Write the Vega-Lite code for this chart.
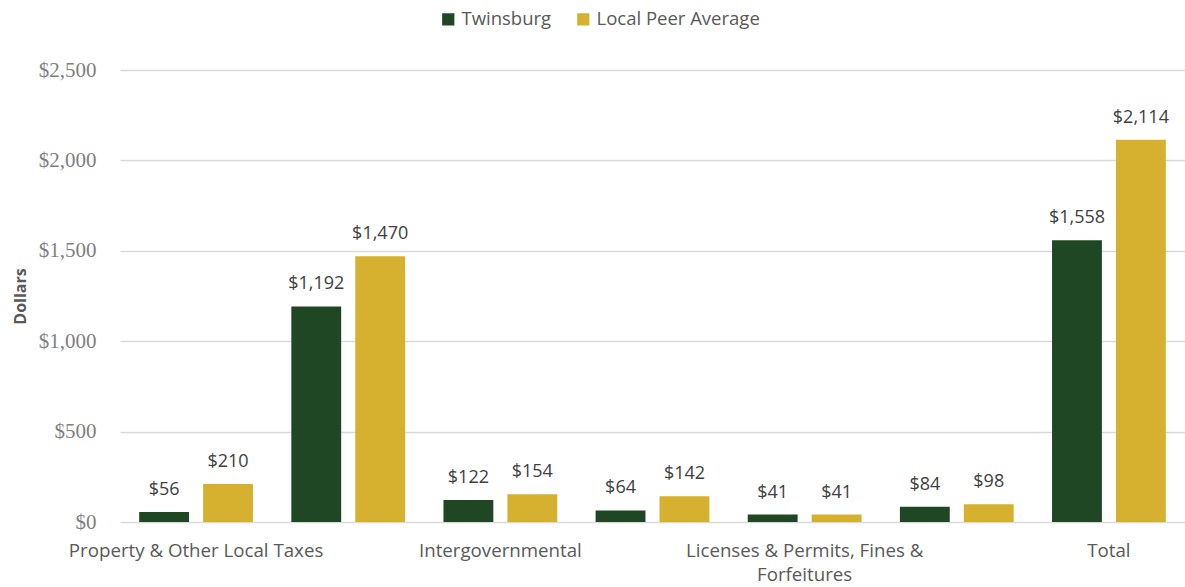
{
  "$schema": "https://vega.github.io/schema/vega-lite/v6.json",
  "autosize": {"type": "none"},
  "width": 1065,
  "height": 452,
  "padding": {"left": 120, "top": 70, "right": 0, "bottom": 65},
  "background": "white",
  "config": {"view": {"stroke": null}},
  "data": {
    "values": [
      {"category": "Property & Other Local Taxes", "series": "Twinsburg", "value": 56},
      {"category": "Property & Other Local Taxes", "series": "Local Peer Average", "value": 210},
      {"category": "Municipal Income Tax", "series": "Twinsburg", "value": 1192},
      {"category": "Municipal Income Tax", "series": "Local Peer Average", "value": 1470},
      {"category": "Intergovernmental", "series": "Twinsburg", "value": 122},
      {"category": "Intergovernmental", "series": "Local Peer Average", "value": 154},
      {"category": "Charges for Services", "series": "Twinsburg", "value": 64},
      {"category": "Charges for Services", "series": "Local Peer Average", "value": 142},
      {"category": "Licenses & Permits, Fines & Forfeitures", "series": "Twinsburg", "value": 41},
      {"category": "Licenses & Permits, Fines & Forfeitures", "series": "Local Peer Average", "value": 41},
      {"category": "Miscellaneous", "series": "Twinsburg", "value": 84},
      {"category": "Miscellaneous", "series": "Local Peer Average", "value": 98},
      {"category": "Total", "series": "Twinsburg", "value": 1558},
      {"category": "Total", "series": "Local Peer Average", "value": 2114}
    ]
  },
  "encoding": {
    "x": {
      "field": "category",
      "type": "nominal",
      "sort": null,
      "scale": {"paddingInner": 0, "paddingOuter": 0},
      "axis": {
        "title": null,
        "labelAngle": 0,
        "ticks": false,
        "domain": false,
        "labelFont": "Open Sans",
        "labelFontSize": 18.7,
        "labelColor": "#595959",
        "labelPadding": 19,
        "labelLimit": 0,
        "labelOverlap": false,
        "labelLineHeight": 24,
        "labelExpr": "datum.label == 'Licenses & Permits, Fines & Forfeitures' ? ['Licenses & Permits, Fines &', 'Forfeitures'] : (indexof(['Municipal Income Tax', 'Charges for Services', 'Miscellaneous'], datum.label) >= 0 ? '' : datum.label)"
      }
    },
    "xOffset": {
      "field": "series",
      "type": "nominal",
      "sort": ["Twinsburg", "Local Peer Average"],
      "scale": {"paddingInner": 0.22, "paddingOuter": 0.3}
    },
    "y": {
      "field": "value",
      "type": "quantitative",
      "scale": {"domain": [0, 2500]},
      "axis": {
        "title": "Dollars",
        "titleFont": "Open Sans",
        "titleFontSize": 16,
        "titleFontWeight": "bold",
        "titleColor": "#595959",
        "titlePadding": 10,
        "values": [0, 500, 1000, 1500, 2000, 2500],
        "format": "$,.0f",
        "labelFont": "Liberation Serif",
        "labelFontSize": 21,
        "labelColor": "#7f7f7f",
        "labelPadding": 24,
        "ticks": false,
        "domain": false,
        "gridColor": "#d9d9d9",
        "gridWidth": 1.5
      }
    }
  },
  "layer": [
    {
      "mark": {"type": "bar"},
      "encoding": {
        "color": {
          "field": "series",
          "type": "nominal",
          "sort": ["Twinsburg", "Local Peer Average"],
          "scale": {"domain": ["Twinsburg", "Local Peer Average"], "range": ["#1f4723", "#d6b130"]},
          "legend": {
            "title": null,
            "orient": "none",
            "direction": "horizontal",
            "legendX": 319,
            "legendY": -60,
            "symbolType": "square",
            "symbolSize": 150,
            "symbolStrokeWidth": 0,
            "labelFont": "Open Sans",
            "labelFontSize": 18.5,
            "labelLimit": 400,
            "labelColor": "#595959",
            "columnPadding": 22,
            "labelOffset": 4
          }
        }
      }
    },
    {
      "mark": {"type": "text", "baseline": "bottom", "dy": -13, "font": "Open Sans", "fontSize": 18, "color": "#404040"},
      "encoding": {
        "text": {"field": "value", "type": "quantitative", "format": "$,.0f"}
      }
    }
  ]
}
